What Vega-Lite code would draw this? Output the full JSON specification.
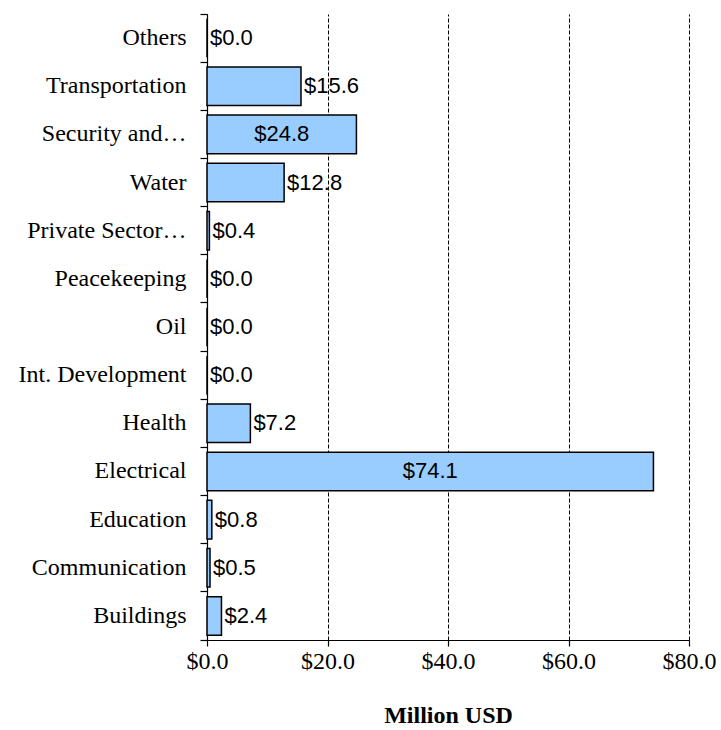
{
  "$schema": "https://vega.github.io/schema/vega-lite/v6.json",
  "width": 482,
  "height": 626,
  "autosize": {"type": "none"},
  "padding": {"left": 207, "top": 14, "right": 32, "bottom": 90},
  "background": "white",
  "config": {
    "view": {"stroke": null},
    "axis": {
      "labelFont": "Liberation Serif",
      "titleFont": "Liberation Serif",
      "labelColor": "black",
      "titleColor": "black",
      "domainColor": "black",
      "tickColor": "black",
      "domainWidth": 1.2,
      "tickWidth": 1.2
    }
  },
  "data": {
    "values": [
      {"category": "Others", "value": 0.0},
      {"category": "Transportation", "value": 15.6},
      {"category": "Security and…", "value": 24.8},
      {"category": "Water", "value": 12.8},
      {"category": "Private Sector…", "value": 0.4},
      {"category": "Peacekeeping", "value": 0.0},
      {"category": "Oil", "value": 0.0},
      {"category": "Int. Development", "value": 0.0},
      {"category": "Health", "value": 7.2},
      {"category": "Electrical", "value": 74.1},
      {"category": "Education", "value": 0.8},
      {"category": "Communication", "value": 0.5},
      {"category": "Buildings", "value": 2.4}
    ]
  },
  "encoding": {
    "y": {
      "field": "category",
      "type": "nominal",
      "sort": null,
      "scale": {"paddingInner": 0, "paddingOuter": 0},
      "axis": {
        "title": null,
        "bandPosition": 1,
        "tickExtra": true,
        "labelFontSize": 24,
        "labelPadding": 14,
        "tickSize": 7,
        "grid": false,
        "labelLimit": 300
      }
    }
  },
  "layer": [
    {
      "mark": {"type": "bar", "fill": "#99CCFF", "stroke": "black", "strokeWidth": 1.5, "height": {"band": 0.8}},
      "encoding": {
        "x": {
          "field": "value",
          "type": "quantitative",
          "scale": {"domain": [0, 80]},
          "axis": {
            "title": "Million USD",
            "titleFontSize": 24,
            "titleFontWeight": "bold",
            "titlePadding": 30,
            "values": [0, 20, 40, 60, 80],
            "format": "$.1f",
            "labelFontSize": 24,
            "labelFlush": false,
            "labelPadding": 3,
            "tickSize": 6,
            "grid": true,
            "gridColor": "black",
            "gridDash": [4, 2],
            "gridWidth": 1
          }
        }
      }
    },
    {
      "transform": [{"filter": "datum.value < 20"}],
      "mark": {"type": "text", "align": "left", "baseline": "middle", "dx": 3, "font": "Liberation Sans", "fontSize": 22, "color": "black"},
      "encoding": {
        "x": {"field": "value", "type": "quantitative", "scale": {"domain": [0, 80]}, "axis": null},
        "text": {"field": "value", "type": "quantitative", "format": "$.1f"}
      }
    },
    {
      "transform": [{"filter": "datum.value >= 20"}],
      "mark": {"type": "text", "align": "center", "baseline": "middle", "font": "Liberation Sans", "fontSize": 22, "color": "black"},
      "encoding": {
        "x": {"field": "value", "type": "quantitative", "scale": {"domain": [0, 160]}, "axis": null},
        "text": {"field": "value", "type": "quantitative", "format": "$.1f"}
      }
    }
  ],
  "resolve": {"scale": {"x": "independent"}}
}
